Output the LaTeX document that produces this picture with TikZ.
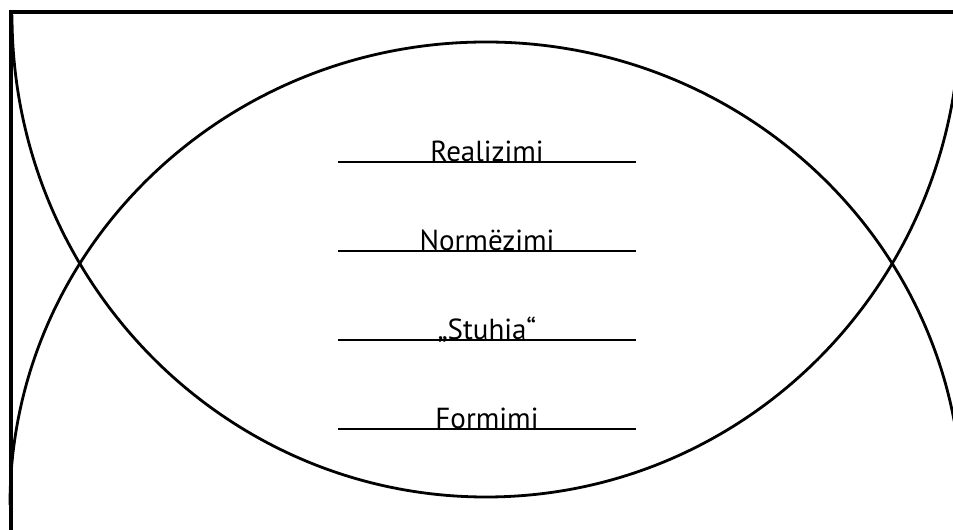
\documentclass[tikz,border=0pt]{standalone}
\usepackage{fontspec}
\usepackage{tikz}
\usetikzlibrary{positioning}
\newfontfamily\stagefont{PT Sans}

\tikzset{
  stage/.style={text height=22pt, text depth=7pt, inner sep=0pt, font=\stagefont\fontsize{29}{34}\selectfont},
  rule/.style={line width=1.6pt},
  arcline/.style={line width=2.8pt}
}

\begin{document}
\begin{tikzpicture}[x=1pt, y=1pt, node distance=89pt]
    \useasboundingbox[fill=white] (0,0) rectangle (953,530);
    \clip (0,0) rectangle (953,530);
    \node (real) [stage] at (487,375.5) {Realizimi};
    \node (norm) [stage, below of=real] {Normëzimi};
    \node (stuh) [stage, below of=norm] {„Stuhia“};
    \node (form) [stage, below of=stuh] {Formimi};

    \foreach \n in {real, norm, stuh, form}
        \draw [rule] ([xshift=-149pt]\n.base) -- ([xshift=149pt]\n.base);

    \draw [arcline] (12,515) arc[start angle=180, end angle=360, x radius=474, y radius=482];
    \draw [arcline] (10,25) arc[start angle=180, end angle=0, x radius=476, y radius=463];
    \draw [line width=3.2pt] (11,0) -- (11,518) -- (953,518);
\end{tikzpicture}
\end{document}
